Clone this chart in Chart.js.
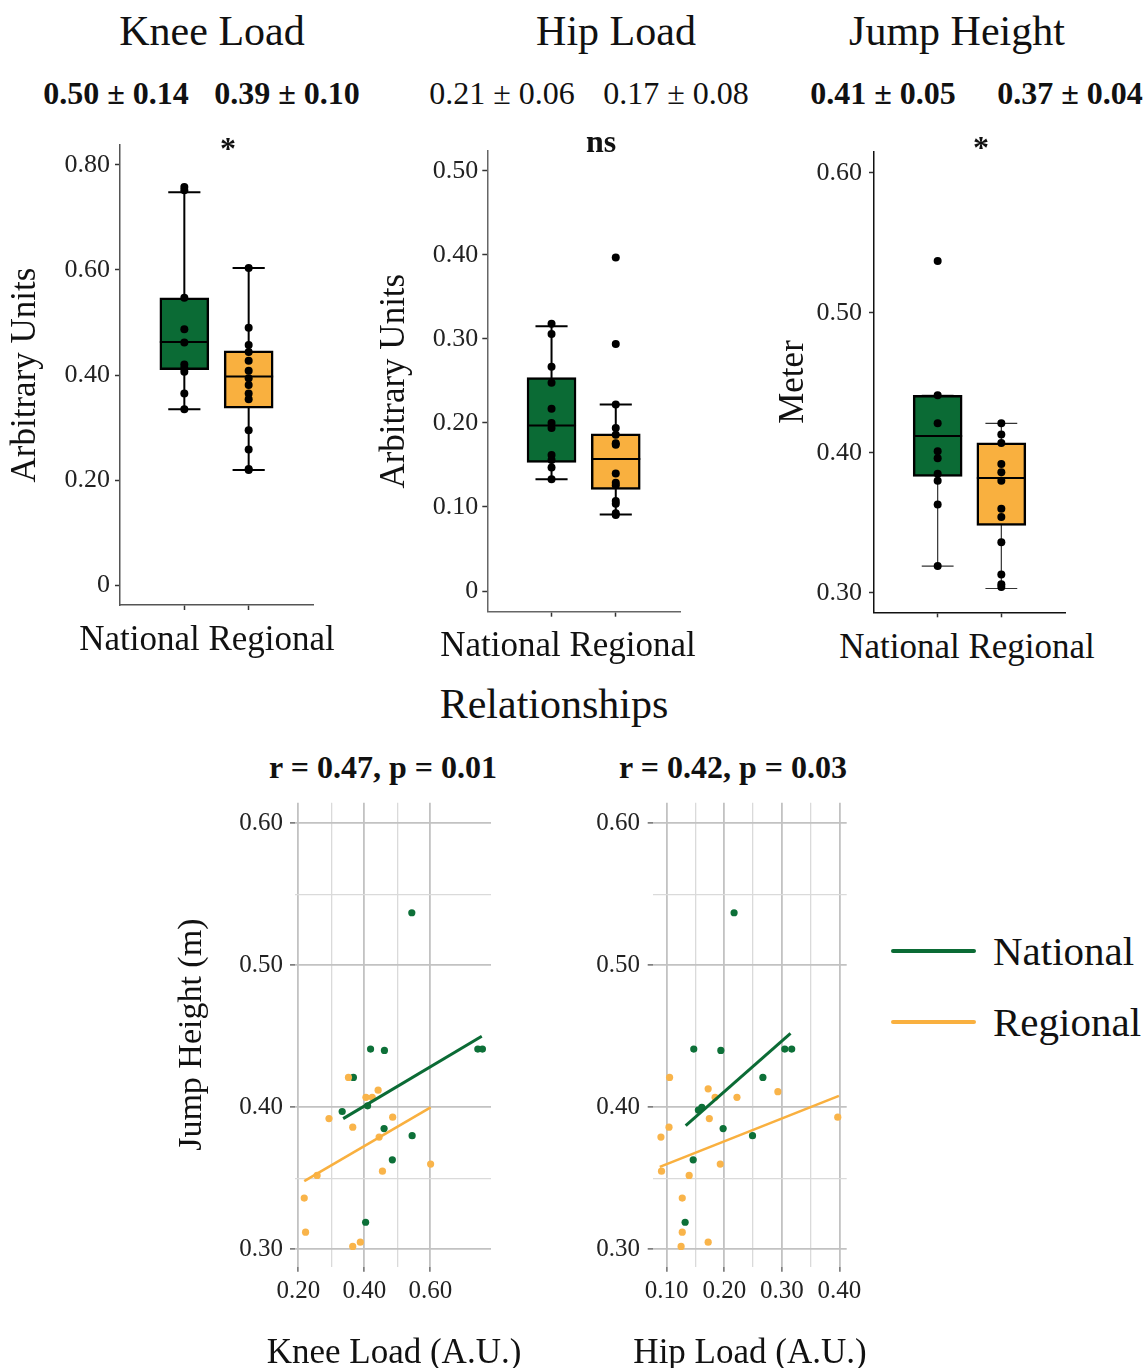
<!DOCTYPE html>
<html>
<head>
<meta charset="utf-8">
<script src="https://cdn.jsdelivr.net/npm/chart.js"></script>
<style>
  body { margin: 0; background: #fff; }
  #fig { position: relative; width: 1147px; height: 1368px; overflow: hidden;
         font-family: "Liberation Serif", "Times New Roman", serif; color: #111; }
  #fig canvas { position: absolute; }
  .t { position: absolute; white-space: nowrap; line-height: 1; transform: translate(-50%, -50%); }
</style>
</head>
<body>
<div id="fig"></div>
<script>
// ---- data ----
const groups = ['National', 'Regional'];
const slots = [' ', 'National', 'Regional', '  '];

// box stats: [lower whisker, Q1, median, Q3, upper whisker]
const kneeNatBox = [0.335, 0.410, 0.463, 0.547, 0.748];
const kneeRegBox = [0.219, 0.337, 0.397, 0.446, 0.604];
const hipNatBox  = [0.133, 0.153, 0.197, 0.254, 0.315];
const hipRegBox  = [0.091, 0.121, 0.157, 0.187, 0.222];
const jumpNatBox = [0.319, 0.383, 0.412, 0.441, 0.441];
const jumpRegBox = [0.303, 0.348, 0.382, 0.407, 0.421];

// individual dots on the box plots
const kneeNatPts = [0.758, 0.752, 0.547, 0.487, 0.462, 0.420, 0.413, 0.406, 0.365, 0.335];
const kneeRegPts = [0.604, 0.490, 0.457, 0.444, 0.427, 0.408, 0.394, 0.381, 0.365, 0.354, 0.295, 0.258, 0.221, 0.219];
const hipNatPts  = [0.318, 0.306, 0.267, 0.248, 0.217, 0.200, 0.194, 0.162, 0.156, 0.147, 0.133];
const hipRegPts  = [0.397, 0.294, 0.222, 0.194, 0.186, 0.176, 0.174, 0.140, 0.129, 0.126, 0.107, 0.104, 0.0925, 0.0905];
const jumpNatPts = [0.537, 0.441, 0.421, 0.401, 0.396, 0.385, 0.380, 0.363, 0.319];
const jumpRegPts = [0.421, 0.413, 0.407, 0.392, 0.386, 0.380, 0.360, 0.354, 0.336, 0.313, 0.306, 0.304];

// box plot y tick labels
const kneeTicks = [0, 0.2, 0.4, 0.6, 0.8];
const hipTicks  = [0, 0.1, 0.2, 0.3, 0.4, 0.5];
const jumpTicks = [0.3, 0.4, 0.5, 0.6];

// scatter: knee load vs jump height
const kneeXNat = [0.744, 0.758, 0.544, 0.419, 0.461, 0.367, 0.410, 0.333, 0.460, 0.545, 0.485, 0.404];
const kneeYNat = [0.441, 0.441, 0.537, 0.441, 0.440, 0.421, 0.401, 0.397, 0.385, 0.380, 0.363, 0.319];
const kneeXReg = [0.352, 0.405, 0.424, 0.442, 0.293, 0.486, 0.365, 0.445, 0.601, 0.455, 0.257, 0.218, 0.222, 0.365, 0.388];
const kneeYReg = [0.421, 0.407, 0.407, 0.412, 0.392, 0.393, 0.386, 0.379, 0.360, 0.355, 0.352, 0.336, 0.312, 0.302, 0.305];
// scatter: hip load vs jump height
const hipXNat = [0.147, 0.194, 0.305, 0.317, 0.217, 0.267, 0.161, 0.155, 0.198, 0.249, 0.146, 0.132];
const hipYNat = [0.441, 0.440, 0.441, 0.441, 0.537, 0.421, 0.400, 0.398, 0.385, 0.380, 0.363, 0.319];
const hipXReg = [0.105, 0.172, 0.184, 0.222, 0.293, 0.174, 0.397, 0.104, 0.090, 0.193, 0.091, 0.139, 0.127, 0.127, 0.172, 0.125];
const hipYReg = [0.421, 0.413, 0.407, 0.407, 0.411, 0.392, 0.393, 0.386, 0.379, 0.360, 0.355, 0.352, 0.336, 0.312, 0.305, 0.302];

// fitted line ends
const kneeFitNatX = [0.336, 0.756], kneeFitNatY = [0.392, 0.450];
const kneeFitRegX = [0.218, 0.601], kneeFitRegY = [0.348, 0.400];
const hipFitNatX  = [0.133, 0.315], hipFitNatY  = [0.387, 0.452];
const hipFitRegX  = [0.088, 0.399], hipFitRegY  = [0.358, 0.408];

// scatter grid / tick labels
const jumpGrid   = [0.30, 0.35, 0.40, 0.50, 0.55, 0.60];
const jumpMajors = [0.30, 0.40, 0.50, 0.60];
const kneeGrid   = [0.2, 0.3, 0.4, 0.5, 0.6];
const kneeMajors = [0.2, 0.4, 0.6];
const hipGrid    = [0.10, 0.15, 0.20, 0.25, 0.30, 0.35, 0.40];
const hipMajors  = [0.10, 0.20, 0.30, 0.40];

const GREEN = '#0b6b35';
const ORANGE = '#f9b03f';
const GREEN_PT = '#0d7038';
const ORANGE_PT = '#f9b44a';

Chart.defaults.font.family = '"Liberation Serif", "Times New Roman", serif';
Chart.defaults.color = '#222';

const fig = document.getElementById('fig');

function addCanvas(left, top, w, h) {
  const c = document.createElement('canvas');
  c.width = w; c.height = h;
  c.style.left = left + 'px'; c.style.top = top + 'px';
  c.style.width = w + 'px'; c.style.height = h + 'px';
  fig.appendChild(c);
  return c;
}

function addText(txt, x, y, size, opt = {}) {
  const d = document.createElement('div');
  d.className = 't';
  d.textContent = txt;
  d.style.left = x + 'px';
  d.style.top = y + 'px';
  d.style.fontSize = size + 'px';
  if (opt.bold) d.style.fontWeight = 'bold';
  if (opt.leftAlign) d.style.transform = 'translate(0,-50%)';
  fig.appendChild(d);
}

// fix axis sizes so the plot areas land where they are in the figure
const fixW = w => s => { s.width = w; s.paddingTop = 0; s.paddingBottom = 0; s.paddingLeft = 0; s.paddingRight = 0; };
const fixH = h => s => { s.height = h; s.paddingTop = 0; s.paddingBottom = 0; s.paddingLeft = 0; s.paddingRight = 0; };

function boxPlugin(stats, lw, col) {
  return {
    id: 'boxes',
    beforeDatasetsDraw(chart) {
      const { ctx, scales: { x, y } } = chart;
      ctx.save();
      ctx.strokeStyle = col;
      ctx.lineWidth = lw;
      stats.forEach((s, i) => {
        const cx = x.getPixelForValue(i + 1);
        const capW = (x.getPixelForValue(2) - x.getPixelForValue(1)) * 0.25;
        ctx.beginPath();
        ctx.moveTo(cx, y.getPixelForValue(s[0]));
        ctx.lineTo(cx, y.getPixelForValue(s[4]));
        [s[0], s[4]].forEach(v => {
          const py = y.getPixelForValue(v);
          ctx.moveTo(cx - capW, py);
          ctx.lineTo(cx + capW, py);
        });
        ctx.stroke();
      });
      ctx.restore();
    },
    afterDatasetDraw(chart, args) {
      if (args.meta.type !== 'bar') return;
      const { ctx, scales: { y } } = chart;
      ctx.save();
      ctx.strokeStyle = '#000';
      ctx.lineWidth = 2;
      stats.forEach((s, i) => {
        const el = args.meta.data[i + 1];
        const py = y.getPixelForValue(s[2]);
        ctx.beginPath();
        ctx.moveTo(el.x - el.width / 2, py);
        ctx.lineTo(el.x + el.width / 2, py);
        ctx.stroke();
      });
      ctx.restore();
    }
  };
}

function boxChart(o) {
  const el = addCanvas(o.left, o.top, o.w, o.h);
  const pts = [];
  groups.forEach((g, i) => o.points[i].forEach(v => pts.push({ x: g, y: v })));
  return new Chart(el, {
    type: 'bar',
    data: {
      labels: slots,
      datasets: [
        { type: 'scatter', data: pts, backgroundColor: '#000', pointRadius: 4, borderWidth: 0, order: 0 },
        {
          type: 'bar',
          data: [null, [o.box[0][1], o.box[0][3]], [o.box[1][1], o.box[1][3]], null],
          backgroundColor: [null, GREEN, ORANGE, null],
          borderColor: '#000', borderWidth: 2.5, borderSkipped: false,
          barThickness: 49, order: 1
        }
      ]
    },
    options: {
      responsive: false, animation: false, events: [],
      layout: { padding: o.pad },
      plugins: { legend: { display: false }, tooltip: { enabled: false } },
      scales: {
        x: {
          type: 'category', offset: false,
          ticks: { display: false },
          grid: {
            offset: false, drawOnChartArea: false, tickLength: 5, tickWidth: 1.5,
            tickColor: c => (c.index === 1 || c.index === 2) ? '#333' : 'rgba(0,0,0,0)'
          },
          border: { color: o.axisCol, width: 1.5 },
          afterFit: fixH(o.xH)
        },
        y: {
          min: o.min, max: o.max,
          afterBuildTicks: s => { s.ticks = o.ticks.map(v => ({ value: v })); },
          ticks: {
            callback: v => v === 0 ? '0' : v.toFixed(2),
            font: { size: 26 }, color: '#222', padding: o.tickPad
          },
          grid: { drawOnChartArea: false, tickLength: 5, color: '#333', tickWidth: 1.5 },
          border: { color: o.axisCol, width: 1.5 },
          title: { display: true, text: o.yTitle, font: { size: 35 }, color: '#111', padding: { top: o.titlePad, bottom: 0 } },
          afterFit: fixW(o.yW)
        }
      }
    },
    plugins: [boxPlugin(o.box, o.whiskerW, o.whiskerCol)]
  });
}

const isMaj = (v, list) => list.some(m => Math.abs(m - v) < 1e-6);
const zip = (xs, ys) => xs.map((x, i) => ({ x: x, y: ys[i] }));

function gridFor(majors) {
  return {
    color: c => isMaj(c.tick.value, majors) ? '#c2c2c2' : '#dadada',
    lineWidth: c => isMaj(c.tick.value, majors) ? 1.8 : 1.3,
    tickColor: c => isMaj(c.tick.value, majors) ? '#555' : 'rgba(0,0,0,0)',
    tickLength: 5, tickWidth: 1.3
  };
}

function scatterChart(o) {
  const el = addCanvas(o.left, o.top, o.w, o.h);
  return new Chart(el, {
    type: 'scatter',
    data: {
      datasets: [
        { data: zip(o.fitNatX, o.fitNatY), showLine: true, pointRadius: 0, borderColor: GREEN, borderWidth: 3, order: 0 },
        { data: zip(o.fitRegX, o.fitRegY), showLine: true, pointRadius: 0, borderColor: ORANGE, borderWidth: 2.6, order: 1 },
        { data: zip(o.regX, o.regY), pointRadius: 3.6, backgroundColor: ORANGE_PT, borderWidth: 0, order: 2 },
        { data: zip(o.natX, o.natY), pointRadius: 3.6, backgroundColor: GREEN_PT, borderWidth: 0, order: 3 }
      ]
    },
    options: {
      responsive: false, animation: false, events: [],
      layout: { padding: o.pad },
      plugins: { legend: { display: false }, tooltip: { enabled: false } },
      scales: {
        x: {
          type: 'linear', min: o.xMin, max: o.xMax,
          afterBuildTicks: s => { s.ticks = o.xGrid.map(v => ({ value: v })); },
          ticks: {
            callback: v => isMaj(v, o.xMajors) ? v.toFixed(2) : '',
            autoSkip: false, maxRotation: 0, minRotation: 0,
            font: { size: 25 }, color: '#222', padding: 5
          },
          grid: gridFor(o.xMajors),
          border: { display: false },
          afterFit: fixH(o.xH)
        },
        y: {
          min: 0.2877, max: 0.6145,
          afterBuildTicks: s => { s.ticks = jumpGrid.map(v => ({ value: v })); },
          ticks: {
            callback: v => isMaj(v, jumpMajors) ? v.toFixed(2) : '',
            autoSkip: false, font: { size: 25 }, color: '#222', padding: o.tickPad
          },
          grid: gridFor(jumpMajors),
          border: { display: false },
          title: { display: !!o.yTitle, text: o.yTitle || '', font: { size: 34 }, color: '#111', padding: { top: 2, bottom: 0 } },
          afterFit: fixW(o.yW)
        }
      }
    }
  });
}

// ---- top row: box plots ----
boxChart({
  left: 0, top: 130, w: 340, h: 490, pad: { top: 15, right: 27, left: 0, bottom: 0 },
  yW: 120, xH: 15, min: -0.038, max: 0.838, ticks: kneeTicks, tickPad: 5, titlePad: 5,
  yTitle: 'Arbitrary Units', box: [kneeNatBox, kneeRegBox], points: [kneeNatPts, kneeRegPts],
  axisCol: '#555', whiskerW: 2, whiskerCol: '#000'
});
boxChart({
  left: 360, top: 130, w: 340, h: 490, pad: { top: 20.7, right: 20, left: 0, bottom: 0 },
  yW: 127.3, xH: 8.3, min: -0.0246, max: 0.524, ticks: hipTicks, tickPad: 4, titlePad: 13.6,
  yTitle: 'Arbitrary Units', box: [hipNatBox, hipRegBox], points: [hipNatPts, hipRegPts],
  axisCol: '#666', whiskerW: 2, whiskerCol: '#000'
});
boxChart({
  left: 760, top: 130, w: 387, h: 490, pad: { top: 21.7, right: 82, left: 0, bottom: 0 },
  yW: 114, xH: 7.7, min: 0.286, max: 0.615, ticks: jumpTicks, tickPad: 7, titlePad: 12.6,
  yTitle: 'Meter', box: [jumpNatBox, jumpRegBox], points: [jumpNatPts, jumpRegPts],
  axisCol: '#111', whiskerW: 1.2, whiskerCol: '#333'
});

// ---- bottom row: scatter plots ----
scatterChart({
  left: 170, top: 790, w: 340, h: 578, pad: { top: 12.7, right: 19, left: 0, bottom: 0 },
  yW: 125, xH: 101.3, tickPad: 7, yTitle: 'Jump Height (m)',
  xMin: 0.19, xMax: 0.784, xGrid: kneeGrid, xMajors: kneeMajors,
  natX: kneeXNat, natY: kneeYNat, regX: kneeXReg, regY: kneeYReg,
  fitNatX: kneeFitNatX, fitNatY: kneeFitNatY, fitRegX: kneeFitRegX, fitRegY: kneeFitRegY
});
scatterChart({
  left: 560, top: 790, w: 310, h: 578, pad: { top: 12.7, right: 23.3, left: 0, bottom: 0 },
  yW: 92.7, xH: 101.3, tickPad: 7.7,
  xMin: 0.0757, xMax: 0.4125, xGrid: hipGrid, xMajors: hipMajors,
  natX: hipXNat, natY: hipYNat, regX: hipXReg, regY: hipYReg,
  fitNatX: hipFitNatX, fitNatY: hipFitNatY, fitRegX: hipFitRegX, fitRegY: hipFitRegY
});

// ---- text ----
addText('Knee Load', 212, 31, 42);
addText('Hip Load', 616, 31, 42);
addText('Jump Height', 957, 31, 42);

addText('0.50 \u00b1 0.14', 116, 93, 32, { bold: true });
addText('0.39 \u00b1 0.10', 287, 93, 32, { bold: true });
addText('0.21 \u00b1 0.06', 502, 93, 32);
addText('0.17 \u00b1 0.08', 676, 93, 32);
addText('0.41 \u00b1 0.05', 883, 93, 32, { bold: true });
addText('0.37 \u00b1 0.04', 1070, 93, 32, { bold: true });

addText('*', 228, 148, 32, { bold: true });
addText('ns', 601, 141, 32, { bold: true });
addText('*', 981, 147, 32, { bold: true });

addText('National Regional', 207, 638, 35);
addText('National Regional', 568, 644, 35);
addText('National Regional', 967, 646, 35);

addText('Relationships', 554, 704, 42);
addText('r = 0.47, p = 0.01', 383, 767, 32, { bold: true });
addText('r = 0.42, p = 0.03', 733, 767, 32, { bold: true });

addText('Knee Load (A.U.)', 394, 1351, 35);
addText('Hip Load (A.U.)', 750, 1351, 35);

// legend
[['National', GREEN, 951], ['Regional', ORANGE, 1022]].forEach(([name, col, y]) => {
  const ln = document.createElement('div');
  ln.style.cssText = `position:absolute;left:891px;top:${y - 2}px;width:85px;height:4px;background:${col};border-radius:2px;`;
  fig.appendChild(ln);
  addText(name, 993, y, 41, { leftAlign: true });
});
</script>
</body>
</html>
